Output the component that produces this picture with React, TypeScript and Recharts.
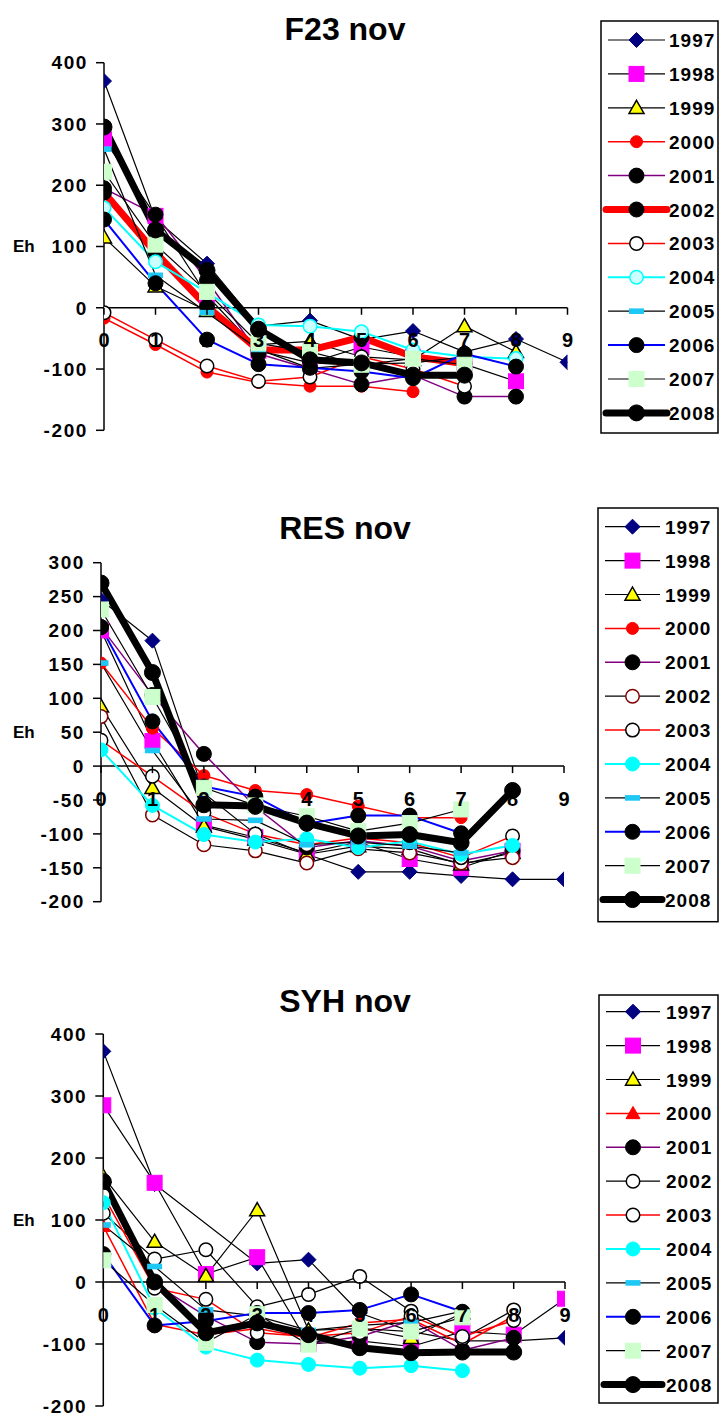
import React from 'react';
import { LineChart, Line, XAxis, YAxis, ReferenceLine, ReferenceDot } from 'recharts';

// ---------- shared data ----------
const depths = [0, 1, 2, 3, 4, 5, 6, 7, 8, 9];
const years = ['1997', '1998', '1999', '2000', '2001', '2002', '2003', '2004', '2005', '2006', '2007', '2008'];
const yTicksF23 = [-200, -100, 0, 100, 200, 300, 400];
const yTicksRES = [-200, -150, -100, -50, 0, 50, 100, 150, 200, 250, 300];
const yTicksSYH = [-200, -100, 0, 100, 200, 300, 400];

// ---------- F23 nov ----------
const f23_1997 = [370, 145, 72, -30, -21, -52, -38, -72, -51, -89];
const f23_1998 = [275, 150, 20, -70, -90, -64, -80, -92, -120, null];
const f23_1999 = [115, 35, -5, -60, -55, -80, -85, -30, -72, null];
const f23_2000 = [-17, -60, -105, -122, -128, -128, -137, null, null, null];
const f23_2001 = [195, 152, 45, -75, -100, -125, -110, -145, -145, null];
const f23_2002 = [188, 90, 2, -69, -69, -48, -80, -91, null, null];
const f23_2003 = [-8, -52, -95, -120, -113, -80, -100, -128, null, null];
const f23_2004 = [163, 75, 25, -28, -30, -39, -69, -80, -83, null];
const f23_2005 = [259, 53, -8, -68, -99, -92, -90, -80, null, null];
const f23_2006 = [144, 40, -52, -92, -98, -104, -115, -75, -96, null];
const f23_2007 = [222, 103, 26, -58, -72, -93, -83, -93, null, null];
const f23_2008 = [295, 127, 61, -35, -85, -90, -110, -110, null, null];

// ---------- RES nov ----------
const res_1997 = [245, 185, -40, -100, -130, -156, -156, -162, -167, -167];
const res_1998 = [200, 37, -87, -105, -128, -112, -137, -150, -125, null];
const res_1999 = [88, -32, -89, -108, -130, -118, -122, -145, -128, null];
const res_2000 = [152, 56, -14, -36, -42, -59, -76, -76, null, null];
const res_2001 = [205, 105, 18, -60, -120, -110, -118, -140, -125, null];
const res_2002 = [73, -72, -116, -125, -143, -122, -128, -143, -135, null];
const res_2003 = [38, -15, -69, -100, -116, -106, -113, -135, -103, null];
const res_2004 = [24, -58, -101, -112, -107, -120, -111, -130, -117, null];
const res_2005 = [152, 23, -78, -80, -116, -112, -118, -128, null, null];
const res_2006 = [205, 66, -30, -45, -85, -73, -73, -99, null, null];
const res_2007 = [231, 102, -32, -58, -74, -96, -84, -64, null, null];
const res_2008 = [270, 138, -57, -59, -84, -103, -101, -113, -36, null];

// ---------- SYH nov ----------
const syh_1997 = [372, 158, null, 30, 36, -50, -80, -95, -95, -90];
const syh_1998 = [285, 160, 13, 40, -100, -95, -104, -80, -85, -27];
const syh_1999 = [170, 65, 10, 116, -78, -75, -90, -50, null, null];
const syh_2000 = [90, -68, -85, -75, -90, -66, -60, -100, -55, null];
const syh_2001 = [160, -3, -55, -97, -100, -88, -62, -110, -90, null];
const syh_2002 = [111, 37, 52, -40, -20, 9, -47, -91, -45, null];
const syh_2003 = [140, -10, -28, -82, -88, -82, -55, -88, -62, null];
const syh_2004 = [128, -42, -105, -126, -133, -139, -135, -143, null, null];
const syh_2005 = [92, 25, -45, -55, -78, -70, -65, -47, null, null];
const syh_2006 = [45, -70, -63, -50, -50, -45, -20, -48, null, null];
const syh_2007 = [35, -37, -98, -52, -101, -75, -80, -57, null, null];
const syh_2008 = [162, 0, -82, -66, -85, -106, -114, -113, -113, null];

const f23Series = [f23_1997, f23_1998, f23_1999, f23_2000, f23_2001, f23_2002, f23_2003, f23_2004, f23_2005, f23_2006, f23_2007, f23_2008];
const resSeries = [res_1997, res_1998, res_1999, res_2000, res_2001, res_2002, res_2003, res_2004, res_2005, res_2006, res_2007, res_2008];
const syhSeries = [syh_1997, syh_1998, syh_1999, syh_2000, syh_2001, syh_2002, syh_2003, syh_2004, syh_2005, syh_2006, syh_2007, syh_2008];

// ---------- styles ----------
type Shape = 'diamond' | 'square' | 'triangle' | 'circle' | 'dash';
type Mk = { shape: Shape; size: number; fill: string; stroke: string; sw?: number };
type St = { color: string; width: number; mk: Mk };

const NAVY = '#000080';
const MAG = '#FF00FF';
const YEL = '#FFFF00';
const RED = '#FF0000';
const PUR = '#800080';
const CYAN = '#00FFFF';
const LCYAN = '#CCFFFF';
const DASH = '#1EC8F5';
const BLUE = '#0000FF';
const GREEN = '#CCFFCC';
const DRED = '#800000';

const sDiamond: St = { color: '#000', width: 1.2, mk: { shape: 'diamond', size: 15, fill: NAVY, stroke: NAVY } };
const sSquare: St = { color: '#000', width: 1.2, mk: { shape: 'square', size: 15, fill: MAG, stroke: MAG } };
const sTri: St = { color: '#000', width: 1.2, mk: { shape: 'triangle', size: 15, fill: YEL, stroke: '#000', sw: 1.5 } };
const sRedDot: St = { color: RED, width: 1.5, mk: { shape: 'circle', size: 13, fill: RED, stroke: RED } };
const sPurple: St = { color: PUR, width: 1.5, mk: { shape: 'circle', size: 16, fill: '#000', stroke: '#000' } };
const sThickRed: St = { color: RED, width: 7, mk: { shape: 'circle', size: 16, fill: '#000', stroke: '#000' } };
const sWhiteRed: St = { color: RED, width: 1.5, mk: { shape: 'circle', size: 15, fill: '#fff', stroke: '#000', sw: 1.5 } };
const sLCyan: St = { color: CYAN, width: 2, mk: { shape: 'circle', size: 15, fill: LCYAN, stroke: CYAN, sw: 1.5 } };
const sDash: St = { color: '#000', width: 1.2, mk: { shape: 'dash', size: 15, fill: DASH, stroke: DASH } };
const sBlue: St = { color: BLUE, width: 2, mk: { shape: 'circle', size: 16, fill: '#000', stroke: '#000' } };
const sGreen: St = { color: '#000', width: 1.2, mk: { shape: 'square', size: 15, fill: GREEN, stroke: GREEN } };
const sThickBlack: St = { color: '#000', width: 7, mk: { shape: 'circle', size: 17, fill: '#000', stroke: '#000' } };
const sWhiteDred: St = { color: '#000', width: 1.2, mk: { shape: 'circle', size: 15, fill: '#fff', stroke: DRED, sw: 1.5 } };
const sCyanDot: St = { color: CYAN, width: 2, mk: { shape: 'circle', size: 15, fill: CYAN, stroke: CYAN } };
const sRedTri: St = { color: RED, width: 1.5, mk: { shape: 'triangle', size: 14, fill: RED, stroke: RED } };
const sWhiteBlack: St = { color: '#000', width: 1.2, mk: { shape: 'circle', size: 15, fill: '#fff', stroke: '#000', sw: 1.5 } };

const f23Styles = [sDiamond, sSquare, sTri, sRedDot, sPurple, sThickRed, sWhiteRed, sLCyan, sDash, sBlue, sGreen, sThickBlack];
const resStyles = [sDiamond, sSquare, sTri, sRedDot, sPurple, sWhiteDred, sWhiteRed, sCyanDot, sDash, sBlue, sGreen, sThickBlack];
const syhStyles = [sDiamond, sSquare, sTri, sRedTri, sPurple, sWhiteBlack, sWhiteRed, sCyanDot, sDash, sBlue, sGreen, sThickBlack];

const FONT = 'Arial, "Liberation Sans", Helvetica, sans-serif';

function drawMarker(mk: Mk, cx: number, cy: number, key?: any) {
  const h = mk.size / 2;
  const sw = mk.sw ?? 1;
  switch (mk.shape) {
    case 'diamond':
      return <polygon key={key} points={`${cx},${cy - h} ${cx + h},${cy} ${cx},${cy + h} ${cx - h},${cy}`} fill={mk.fill} stroke={mk.stroke} strokeWidth={sw} />;
    case 'square':
      return <rect key={key} x={cx - h} y={cy - h} width={mk.size} height={mk.size} fill={mk.fill} stroke={mk.stroke} strokeWidth={sw} />;
    case 'triangle':
      return <polygon key={key} points={`${cx},${cy - h} ${cx + h},${cy + h * 0.75} ${cx - h},${cy + h * 0.75}`} fill={mk.fill} stroke={mk.stroke} strokeWidth={sw} strokeLinejoin="miter" />;
    case 'dash':
      return <rect key={key} x={cx - h} y={cy - 2.8} width={mk.size} height={5.6} fill={mk.fill} stroke="none" />;
    default:
      return <circle key={key} cx={cx} cy={cy} r={h - sw / 2} fill={mk.fill} stroke={mk.stroke} strokeWidth={sw} />;
  }
}

function dotRenderer(mk: Mk) {
  return (p: any) => {
    const k = `d-${p.index}`;
    if (p.cy == null || p.cx == null || p.value == null || Number.isNaN(p.cy)) return <g key={k} />;
    return drawMarker(mk, p.cx, p.cy, k);
  };
}

function buildRows(series: (number | null)[][]) {
  return depths.map((d, i) => {
    const row: any = { x: d };
    years.forEach((y, j) => {
      row['y' + y] = series[j][i];
    });
    return row;
  });
}

type PanelProps = {
  top: number;
  height: number;
  margin: { top: number; right: number; bottom: number; left: number };
  series: (number | null)[][];
  styles: St[];
  yDomain: [number, number];
  yTicks: number[];
};

function Panel({ top, height, margin, series, styles, yDomain, yTicks }: PanelProps) {
  const rows = buildRows(series);
  return (
    <div style={{ position: 'absolute', left: 0, top, width: 721, height }}>
      <LineChart width={721} height={height} data={rows} margin={margin}>
        <XAxis type="number" dataKey="x" domain={[0, 9]} hide allowDataOverflow />
        <YAxis
          type="number"
          domain={yDomain}
          ticks={yTicks}
          interval={0}
          width={60}
          allowDataOverflow
          axisLine={{ stroke: '#000', strokeWidth: 1.5 }}
          tickLine={{ stroke: '#000', strokeWidth: 1.5 }}
          tickSize={8}
          tickMargin={8}
          tick={{ fill: '#000', fontSize: 19, fontWeight: 'bold', fontFamily: FONT, letterSpacing: 1.6 }}
        />
        <ReferenceLine y={0} stroke="#000" strokeWidth={1.5} />
        {years.map((y, j) => (
          <Line
            key={y}
            type="linear"
            dataKey={'y' + y}
            stroke={styles[j].color}
            strokeWidth={styles[j].width}
            strokeLinejoin="round"
            strokeLinecap="round"
            dot={dotRenderer(styles[j].mk)}
            activeDot={false}
            connectNulls
            isAnimationActive={false}
          />
        ))}
        {depths.map((d) => (
          <ReferenceDot
            key={'t' + d}
            x={d}
            y={0}
            r={0}
            ifOverflow="visible"
            shape={(p: any) => (
              <g>
                <line x1={p.cx} y1={p.cy} x2={p.cx} y2={p.cy + 7} stroke="#000" strokeWidth={1.5} />
                <text x={p.cx} y={p.cy + 39.5} textAnchor="middle" fontSize={20} fontWeight="bold" fontFamily={FONT} fill="#000">
                  {d}
                </text>
              </g>
            )}
          />
        ))}
      </LineChart>
    </div>
  );
}

type LegendProps = { left: number; top: number; bottom: number; first: number; styles: St[]; lineX0: number; lineX1: number; textX: number };

function LegendBox({ left, top, bottom, first, styles, lineX0, lineX1, textX }: LegendProps) {
  const step = 33.9;
  const mid = (lineX0 + lineX1) / 2;
  return (
    <g>
      <rect x={left} y={top} width={718 - left} height={bottom - top} fill="#fff" stroke="#000" strokeWidth={1.5} />
      {years.map((y, j) => {
        const cy = first + j * step;
        const st = styles[j];
        const thick = st.width > 5;
        return (
          <g key={y}>
            <line x1={thick ? lineX0 - 2 : lineX0} y1={cy} x2={thick ? lineX1 + 2 : lineX1} y2={cy} stroke={st.color} strokeWidth={st.width} strokeLinecap={thick ? 'round' : 'butt'} />
            {drawMarker(st.mk, mid, cy)}
            <text x={textX} y={cy + 7} fontSize={19} fontWeight="bold" fontFamily={FONT} fill="#000" letterSpacing={1}>
              {y}
            </text>
          </g>
        );
      })}
    </g>
  );
}

const titleStyle = { fontSize: 32, fontWeight: 'bold' as const, fontFamily: FONT };
const ehStyle = { fontSize: 17, fontWeight: 'bold' as const, fontFamily: FONT };

export default function App() {
  return (
    <div style={{ position: 'absolute', left: 0, top: 0, width: 721, height: 1416, background: '#fff', overflow: 'hidden' }}>
      <svg width={721} height={1416} style={{ position: 'absolute', left: 0, top: 0 }}>
        <text x={345} y={40} textAnchor="middle" {...titleStyle}>F23 nov</text>
        <text x={345} y={539} textAnchor="middle" {...titleStyle}>RES nov</text>
        <text x={345} y={1012} textAnchor="middle" {...titleStyle}>SYH nov</text>
        <text x={13} y={252} {...ehStyle}>Eh</text>
        <text x={13} y={738} {...ehStyle}>Eh</text>
        <text x={13} y={1226} {...ehStyle}>Eh</text>
        <LegendBox left={601} top={21} bottom={433} first={40} styles={f23Styles} lineX0={608} lineX1={665} textX={669} />
        <LegendBox left={598} top={508} bottom={921.7} first={526.7} styles={resStyles} lineX0={605} lineX1={660} textX={665} />
        <LegendBox left={599} top={995} bottom={1403} first={1011.7} styles={syhStyles} lineX0={606} lineX1={660} textX={666} />
      </svg>
      <Panel
        top={0}
        height={470}
        margin={{ top: 62.7, right: 153.5, bottom: 39.7, left: 44 }}
        series={f23Series}
        styles={f23Styles}
        yDomain={[-200, 400]}
        yTicks={yTicksF23}
      />
      <Panel
        top={480}
        height={460}
        margin={{ top: 82.7, right: 157, bottom: 38.3, left: 41 }}
        series={resSeries}
        styles={resStyles}
        yDomain={[-200, 300]}
        yTicks={yTicksRES}
      />
      <Panel
        top={950}
        height={466}
        margin={{ top: 84, right: 156, bottom: 10, left: 43.3 }}
        series={syhSeries}
        styles={syhStyles}
        yDomain={[-200, 400]}
        yTicks={yTicksSYH}
      />
    </div>
  );
}
